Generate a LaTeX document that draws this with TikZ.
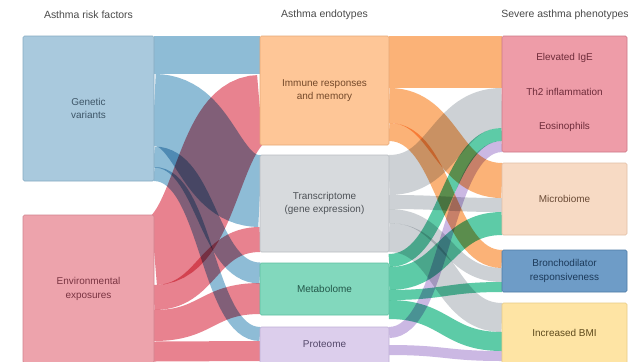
\documentclass[tikz,border=0pt]{standalone}
\usepackage{fontspec}
\setmainfont{Liberation Sans}
\usetikzlibrary{calc}

% node fills, borders and label colours
\definecolor{genbox}{HTML}{A9C9DD}\definecolor{genedge}{HTML}{86ABC2}\definecolor{gentext}{HTML}{3E5668}
\definecolor{envbox}{HTML}{EDA3AC}\definecolor{envedge}{HTML}{D1838E}\definecolor{envtext}{HTML}{7A3442}
\definecolor{immbox}{HTML}{FEC697}\definecolor{immedge}{HTML}{E6A876}\definecolor{immtext}{HTML}{74492A}
\definecolor{trabox}{HTML}{D7DADD}\definecolor{traedge}{HTML}{B9BDC1}\definecolor{tratext}{HTML}{4E5257}
\definecolor{metbox}{HTML}{82D8BD}\definecolor{metedge}{HTML}{5FBFA1}\definecolor{mettext}{HTML}{23584A}
\definecolor{probox}{HTML}{DCCEEC}\definecolor{proedge}{HTML}{BFAFD6}\definecolor{protext}{HTML}{54486A}
\definecolor{elebox}{HTML}{EE9CA8}\definecolor{eleedge}{HTML}{CC7886}\definecolor{eletext}{HTML}{6E2C3A}
\definecolor{micbox}{HTML}{F7DAC4}\definecolor{micedge}{HTML}{E2BFA5}\definecolor{mictext}{HTML}{6A4A35}
\definecolor{brobox}{HTML}{6E9CC7}\definecolor{broedge}{HTML}{4E7BA6}\definecolor{brotext}{HTML}{1C3A5A}
\definecolor{bmibox}{HTML}{FEE4A4}\definecolor{bmiedge}{HTML}{E8CB85}\definecolor{bmitext}{HTML}{5E4A1C}
\definecolor{titlegray}{HTML}{4A4A4A}
% link colours
\definecolor{genlink}{HTML}{8EBCD6}
\definecolor{envlink}{HTML}{E8828F}
\definecolor{immlink}{HTML}{FBB277}
\definecolor{tralink}{HTML}{CDD1D5}
\definecolor{metlink}{HTML}{5DCBA7}
\definecolor{prolink}{HTML}{CBB8E3}

% a Sankey link: colour, source node, offset below its top, target node,
% offset below its top, half horizontal gap, width
\newcommand\sankeylink[7]{%
  \draw[#1, line width=#7bp]
    ($(#2.north east)+(0,#3)$) .. controls +(#6bp,0) and +(-#6bp,0) ..
    ($(#4.north west)+(0,#5)$);}

\begin{document}
\begin{tikzpicture}[x=1bp, y=-1bp,
  box/.style={rectangle, rounded corners=1.5bp, line width=0.6bp, inner sep=0pt,
    outer sep=0pt, anchor=north west},
  lbl/.style={align=center, font=\fontsize{10}{13.5}\selectfont},
  title/.style={font=\fontsize{10.5}{12}\selectfont, text=titlegray}]

\useasboundingbox (0,0) rectangle (628,361);
\fill[white] (0,0) rectangle (628,361);

% node frames, placed first (no paint) so that links can refer to them
\path
  (23,36)   node[box, minimum width=131bp, minimum height=145bp] (gen) {}
  (23,215)  node[box, minimum width=131bp, minimum height=148bp] (env) {}
  (260,36)  node[box, minimum width=129bp, minimum height=109bp] (imm) {}
  (260,155) node[box, minimum width=129bp, minimum height=97bp]  (tra) {}
  (260,263) node[box, minimum width=129bp, minimum height=52bp]  (met) {}
  (260,327) node[box, minimum width=129bp, minimum height=37bp]  (pro) {}
  (502,36)  node[box, minimum width=125bp, minimum height=116bp] (ele) {}
  (502,163) node[box, minimum width=125bp, minimum height=72bp]  (mic) {}
  (502,250) node[box, minimum width=125bp, minimum height=42bp]  (bro) {}
  (502,303) node[box, minimum width=125bp, minimum height=61bp]  (bmi) {};

% links, multiplied where they cross
\begin{scope}[blend mode=multiply]
  % risk factors to endotypes
  \sankeylink{genlink}{gen}{19}{imm}{19}{53}{38}
  \sankeylink{genlink}{gen}{74}{tra}{36}{53}{72}
  \sankeylink{genlink}{gen}{121}{met}{10}{53}{21}
  \sankeylink{genlink}{gen}{138}{pro}{7}{53}{14}
  \sankeylink{envlink}{env}{35}{imm}{74}{53}{70}
  \sankeylink{envlink}{env}{82.5}{tra}{84.5}{53}{25}
  \sankeylink{envlink}{env}{110.5}{met}{35.5}{53}{31}
  \sankeylink{envlink}{env}{136.5}{pro}{24}{53}{20}
  % endotypes to phenotypes
  \sankeylink{immlink}{imm}{26}{ele}{26}{56.5}{52}
  \sankeylink{immlink}{imm}{69.5}{mic}{17.5}{56.5}{35}
  \sankeylink{immlink}{imm}{96}{bro}{9}{56.5}{18}
  \sankeylink{tralink}{tra}{20}{ele}{72}{56.5}{40}
  \sankeylink{tralink}{tra}{47}{mic}{42}{56.5}{14}
  \sankeylink{tralink}{tra}{61}{bro}{25}{56.5}{14}
  \sankeylink{tralink}{tra}{82.5}{bmi}{14.5}{56.5}{29}
  \sankeylink{metlink}{met}{-2.5}{ele}{98.5}{56.5}{13}
  \sankeylink{metlink}{met}{15.5}{mic}{60.5}{56.5}{23}
  \sankeylink{metlink}{met}{32}{bro}{37}{56.5}{10}
  \sankeylink{metlink}{met}{46.5}{bmi}{38.5}{56.5}{19}
  \sankeylink{prolink}{pro}{5.5}{ele}{110.5}{56.5}{11}
  \sankeylink{prolink}{pro}{23}{bmi}{53}{56.5}{10}
\end{scope}

% boxes painted over the link ends
\tikzset{paintbox/.style={draw=#1edge, fill=#1box, rounded corners=1.5bp, line width=0.6bp}}
\foreach \n in {gen,env,imm,tra,met,pro,ele,mic,bro,bmi}
  \draw[paintbox=\n] (\n.north west) rectangle (\n.south east);

% labels
\node[lbl, text=gentext] (genlabel) at (gen.center) {Genetic\\variants};
\node[lbl, text=envtext] (envlabel) at (88.5,289) {Environmental\\exposures};
\node[lbl, text=immtext] (immlabel) at (imm.center) {Immune responses\\and memory};
\node[lbl, text=tratext] (tralabel) at (tra.center) {Transcriptome\\(gene expression)};
\node[lbl, text=mettext] (metlabel) at (met.center) {Metabolome};
\node[lbl, text=protext] (prolabel) at (324.5,344) {Proteome};
\node[lbl, text=eletext] (ige) at (564.5,58) {Elevated IgE};
\node[lbl, text=eletext] (th2) at (564.5,92) {Th2 inflammation};
\node[lbl, text=eletext] (eos) at (564.5,127) {Eosinophils};
\node[lbl, text=mictext] (miclabel) at (mic.center) {Microbiome};
\node[lbl, text=brotext] (brolabel) at (bro.center) {Bronchodilator\\responsiveness};
\node[lbl, text=bmitext] (bmilabel) at (564.5,333) {Increased BMI};

% column titles
\node[title] (t1) at (88.5,15) {Asthma risk factors};
\node[title] (t2) at (324.5,15) {Asthma endotypes};
\node[title] (t3) at (565,15) {Severe asthma phenotypes};
\end{tikzpicture}
\end{document}
